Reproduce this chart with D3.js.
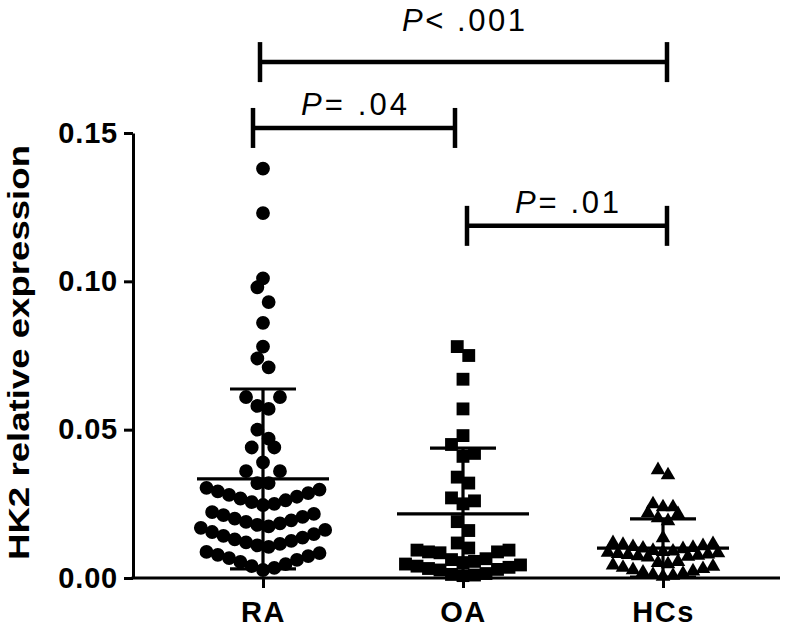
<!DOCTYPE html>
<html><head><meta charset="utf-8">
<script src="https://cdn.jsdelivr.net/npm/d3@7"></script>
<style>body{margin:0;background:#fff}svg{display:block}</style>
</head><body>
<svg id="chart" width="800" height="630"></svg>
<script>
// ---------------- data ----------------
const groups = ["RA", "OA", "HCs"];
const raValues = [
  0.138, 0.123, 0.101, 0.098, 0.093, 0.086, 0.078, 0.074, 0.071, 0.061, 0.061,
  0.058, 0.057, 0.050, 0.047, 0.044, 0.044, 0.039, 0.036, 0.036, 0.032, 0.032,
  0.0246, 0.0250, 0.0256, 0.0262, 0.0268, 0.0274, 0.0280, 0.0286, 0.0292, 0.0298, 0.0304,
  0.0169, 0.0174, 0.0179, 0.0184, 0.0189, 0.0194, 0.0200, 0.0206, 0.0212, 0.0216, 0.0222,
  0.0105, 0.0110, 0.0115, 0.0120, 0.0125, 0.0130, 0.0136, 0.0142, 0.0148, 0.0155, 0.0162,
  0.0027, 0.0034, 0.0040, 0.0047, 0.0054, 0.0061, 0.0067, 0.0074, 0.0078, 0.0084, 0.0088
];
const oaValues = [
  0.078, 0.075, 0.067, 0.057, 0.048, 0.045, 0.042, 0.041, 0.034, 0.032, 0.027,
  0.026, 0.025, 0.019, 0.016,
  0.0118, 0.0101, 0.0094, 0.0094, 0.0088, 0.0088, 0.0085,
  0.0065, 0.0062, 0.0056, 0.0052, 0.0047, 0.0044, 0.0040, 0.0036, 0.0032, 0.0029, 0.0027,
  0.0015, 0.0012, 0.0010, 0.0008
];
const hcValues = [
  0.0364, 0.0347, 0.0249, 0.0239, 0.0239, 0.0219, 0.0216, 0.0202, 0.0192, 0.0135,
  0.0118, 0.0115, 0.0112, 0.0108, 0.0105, 0.0102, 0.0100, 0.0098,
  0.0092, 0.0090, 0.0088, 0.0086, 0.0084, 0.0082, 0.0080, 0.0078, 0.0076, 0.0074, 0.0072, 0.0070,
  0.0055, 0.0051, 0.0047, 0.0043, 0.0039, 0.0035, 0.0031, 0.0027, 0.0023, 0.0019, 0.0015,
  0.0011, 0.0008, 0.0005
];
const means = [0.0334, 0.0216, 0.0101];
const sds = [0.0303, 0.0222, 0.0098];
const yTicks = [0.00, 0.05, 0.10, 0.15];
const yTickLabels = ["0.00", "0.05", "0.10", "0.15"];
const yTitle = "HK2 relative expression";
const compFrom = ["RA", "RA", "OA"];
const compTo = ["HCs", "OA", "HCs"];
const compLevel = [0.1739, 0.1517, 0.1187];
const compOp = ["<", "=", "="];
const compP = [".001", ".04", ".01"];

// ---------------- layout / style ----------------
const svg = d3.select("#chart");
const y = d3.scaleLinear().domain([0, 0.15]).range([578, 133]);
const x = d3.scalePoint().domain(groups).range([263, 663]);
const ink = "#000";
const font = "'Liberation Sans', Arial, Helvetica, sans-serif";

const seriesStyle = [
  {values: raValues, sym: d3.symbolCircle, size: 150, bin: 19, gap: 11.3},
  {values: oaValues, sym: d3.symbolSquare, size: 165, bin: 13, gap: 11.5},
  {values: hcValues, sym: d3.symbolTriangle, size: 92, bin: 12, gap: 10}
];

// GraphPad-like scatter layout: bin by pixel height, spread each bin center-out
function layout(values, binPx, gap) {
  const s = values.slice().sort((a, b) => a - b);
  const out = [];
  let i = 0;
  while (i < s.length) {
    const y0 = y(s[i]);
    const bin = [];
    while (i < s.length && y0 - y(s[i]) < binPx) { bin.push(s[i]); i++; }
    const n = bin.length;
    bin.forEach((v, k) => {
      let off;
      if (n % 2 === 1) {
        const m = Math.ceil(k / 2);
        off = k === 0 ? 0 : (k % 2 === 1 ? m : -m);
      } else {
        const m = Math.floor(k / 2);
        off = k % 2 === 0 ? (m + 0.5) : -(m + 0.5);
      }
      out.push({v, dx: off * gap});
    });
  }
  return out;
}

// points
seriesStyle.forEach((st, gi) => {
  const pts = layout(st.values, st.bin, st.gap);
  svg.append("g").selectAll("path").data(pts).join("path")
    .attr("d", d3.symbol().type(st.sym).size(st.size))
    .attr("transform", d => `translate(${x(groups[gi]) + d.dx},${y(d.v)})`)
    .attr("fill", ink);
});

// mean and SD lines
const stats = svg.append("g").attr("stroke", ink).attr("stroke-width", 3.2);
groups.forEach((g, i) => {
  const cx = x(g);
  const top = means[i] + sds[i];
  const bot = Math.max(0, means[i] - sds[i]);
  stats.append("line").attr("x1", cx - 66).attr("x2", cx + 66)
    .attr("y1", y(means[i])).attr("y2", y(means[i]));
  stats.append("line").attr("x1", cx).attr("x2", cx)
    .attr("y1", y(top)).attr("y2", y(bot));
  stats.append("line").attr("x1", cx - 33).attr("x2", cx + 33)
    .attr("y1", y(top)).attr("y2", y(top));
  if (means[i] - sds[i] > 0) {
    stats.append("line").attr("x1", cx - 33).attr("x2", cx + 33)
      .attr("y1", y(bot)).attr("y2", y(bot));
  }
});

// y axis
const yAxis = svg.append("g").attr("transform", "translate(133,0)")
  .call(d3.axisLeft(y).tickValues(yTicks).tickFormat((d, i) => yTickLabels[i])
    .tickSize(9).tickSizeOuter(0).tickPadding(6));
yAxis.select(".domain").attr("stroke", ink).attr("stroke-width", 3);
yAxis.selectAll(".tick line").attr("stroke", ink).attr("stroke-width", 3);
yAxis.selectAll(".tick text").attr("fill", ink)
  .style("font-family", font).style("font-size", "29px").style("font-weight", "bold")
  .attr("letter-spacing", "0.8px");

// x axis
const xAxis = svg.append("g").attr("transform", "translate(0,578)")
  .call(d3.axisBottom(x).tickSize(10).tickSizeOuter(0).tickPadding(13));
xAxis.select(".domain").remove();
xAxis.insert("line", ":first-child").attr("x1", 131.5).attr("x2", 780)
  .attr("y1", 0).attr("y2", 0).attr("stroke", ink).attr("stroke-width", 3);
xAxis.selectAll(".tick line").attr("stroke", ink).attr("stroke-width", 3);
xAxis.selectAll(".tick text").attr("fill", ink)
  .style("font-family", font).style("font-size", "29px").style("font-weight", "bold")
  .attr("letter-spacing", "1.5px");

// y title
svg.append("text")
  .attr("transform", `translate(29,${(145 + 560) / 2}) rotate(-90)`)
  .attr("text-anchor", "middle")
  .attr("textLength", 415).attr("lengthAdjust", "spacingAndGlyphs")
  .style("font-family", font).style("font-size", "29px").style("font-weight", "bold")
  .attr("fill", ink)
  .text(yTitle);

// significance bars
const barNudge = [[-3, 4], [-10, -8], [4, 4]];
const labelGap = [31, 13, 13];
const labelLen = [123, 106, 104];
const sig = svg.append("g");
compFrom.forEach((f, i) => {
  const x1 = x(f) + barNudge[i][0];
  const x2 = x(compTo[i]) + barNudge[i][1];
  const yy = y(compLevel[i]);
  const g = sig.append("g").attr("stroke", ink).attr("stroke-width", 4.5);
  g.append("line").attr("x1", x1).attr("x2", x2).attr("y1", yy).attr("y2", yy);
  g.append("line").attr("x1", x1).attr("x2", x1).attr("y1", yy - 20).attr("y2", yy + 20);
  g.append("line").attr("x1", x2).attr("x2", x2).attr("y1", yy - 20).attr("y2", yy + 20);
  const t = sig.append("text")
    .attr("x", (x1 + x2) / 2).attr("y", yy - labelGap[i])
    .attr("text-anchor", "middle")
    .attr("textLength", labelLen[i]).attr("lengthAdjust", "spacing")
    .style("font-family", font).style("font-size", "31px").attr("fill", ink);
  t.append("tspan").style("font-style", "italic").text("P");
  t.append("tspan").text(compOp[i] + "\u00a0" + compP[i]);
});
</script>
</body></html>
